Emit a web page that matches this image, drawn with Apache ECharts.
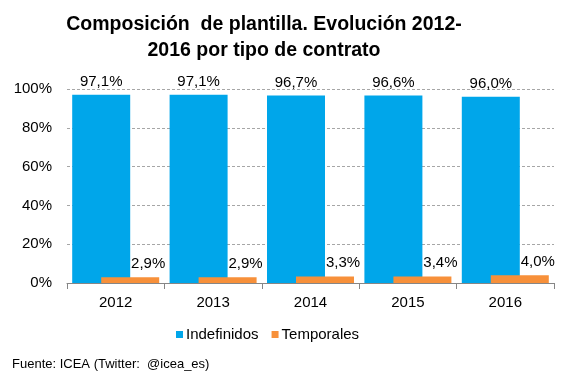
<!DOCTYPE html>
<html>
<head>
<meta charset="utf-8">
<script src="https://cdn.jsdelivr.net/npm/echarts@6/dist/echarts.min.js"></script>
<style>
html,body{margin:0;padding:0;background:#fff;}
#chart{width:567px;height:378px;}
</style>
</head>
<body>
<div id="chart"></div>
<script>
const categories = ['2012', '2013', '2014', '2015', '2016'];
const indefinidos = [97.1, 97.1, 96.7, 96.6, 96.0];
const temporales = [2.9, 2.9, 3.3, 3.4, 4.0];
const yTicks = [0, 20, 40, 60, 80, 100];

const fmt = v => v.toFixed(1).replace('.', ',') + '%';
const font = "Arial, 'Liberation Sans', sans-serif";

const chart = echarts.init(document.getElementById('chart'), null, {renderer: 'canvas'});
chart.setOption({
  animation: false,
  backgroundColor: '#ffffff',
  textStyle: {fontFamily: font},
  title: [{
    text: 'Composición  de plantilla. Evolución 2012-\n2016 por tipo de contrato',
    left: 264,
    top: 12,
    padding: 0,
    textAlign: 'center',
    textStyle: {fontFamily: font, fontSize: 19.5, fontWeight: 'bold', color: '#000', lineHeight: 26}
  }, {
    text: 'Fuente: ICEA (Twitter:  @icea_es)',
    left: 12,
    top: 358,
    padding: 0,
    textStyle: {fontFamily: font, fontSize: 13, fontWeight: 'normal', color: '#000'}
  }],
  legend: {
    data: ['Indefinidos', 'Temporales'],
    left: 176,
    top: 327,
    padding: 0,
    itemWidth: 7,
    itemHeight: 7,
    itemGap: 13,
    icon: 'rect',
    textStyle: {fontFamily: font, fontSize: 15, color: '#000', padding: [0, 0, 0, -2]}
  },
  grid: {left: 67, right: 13, top: 89, bottom: 95, containLabel: false},
  xAxis: {
    type: 'category',
    data: categories,
    axisLine: {show: true, lineStyle: {color: '#868686', width: 1}},
    axisTick: {show: true, length: 6, alignWithLabel: false, lineStyle: {color: '#868686'}},
    axisLabel: {fontFamily: font, fontSize: 15, color: '#000', margin: 12}
  },
  yAxis: {
    type: 'value',
    min: yTicks[0],
    max: yTicks[yTicks.length - 1],
    interval: 20,
    axisLine: {show: false},
    axisTick: {show: false},
    axisLabel: {fontFamily: font, fontSize: 15, color: '#000', margin: 15, formatter: v => v + '%'},
    splitLine: {show: true, lineStyle: {color: '#A6A6A6', type: [3, 2], width: 1}}
  },
  series: [{
    name: 'Indefinidos',
    type: 'bar',
    data: indefinidos,
    barWidth: 58,
    barGap: '-50%',
    itemStyle: {color: '#00A6EA'},
    label: {show: true, position: 'top', distance: 5, fontFamily: font, fontSize: 15, color: '#000', formatter: p => fmt(p.value)}
  }, {
    name: 'Temporales',
    type: 'bar',
    data: temporales,
    barWidth: 58,
    barGap: '-50%',
    itemStyle: {color: '#F7903A'},
    label: {show: true, position: 'top', distance: 6, offset: [18, 0], fontFamily: font, fontSize: 15, color: '#000', formatter: p => fmt(p.value)}
  }]
});
</script>
</body>
</html>
